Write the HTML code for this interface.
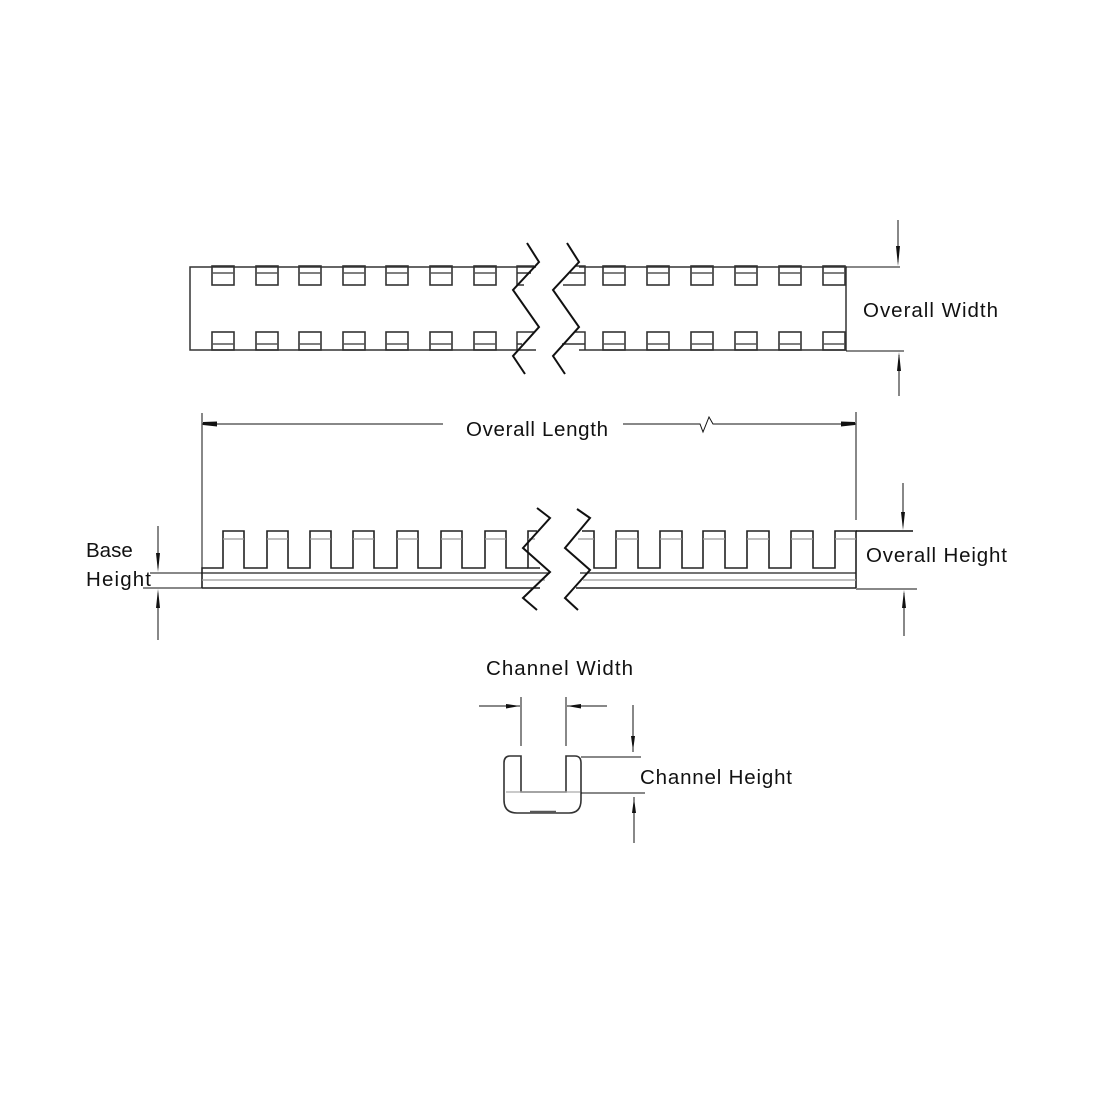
<!DOCTYPE html>
<html><head><meta charset="utf-8"><style>
html,body{margin:0;padding:0;background:#fff;}
svg{display:block;}
text{font-family:"Liberation Sans",sans-serif;font-size:20.5px;fill:#111;}
</style></head><body>
<svg width="1100" height="1100" viewBox="0 0 1100 1100" xmlns="http://www.w3.org/2000/svg">
<defs>
<g id="sqT" fill="none" stroke="#333" stroke-width="1.6"><rect x="0" y="266" width="22" height="19"/><line x1="0" y1="273" x2="22" y2="273" stroke="#555"/></g>
<g id="sqB" fill="none" stroke="#333" stroke-width="1.6"><rect x="0" y="332" width="22" height="18"/><line x1="0" y1="344" x2="22" y2="344" stroke="#555"/></g>
</defs>
<g stroke="#333" stroke-width="1.5" fill="none">
<polyline points="536,267 190,267 190,350 536,350"/>
<polyline points="579,267 846,267 846,350 579,350"/>
</g>
<use href="#sqT" x="212"/><use href="#sqT" x="256"/><use href="#sqT" x="299"/><use href="#sqT" x="343"/><use href="#sqT" x="386"/><use href="#sqT" x="430"/><use href="#sqT" x="474"/>
<use href="#sqT" x="603"/><use href="#sqT" x="647"/><use href="#sqT" x="691"/><use href="#sqT" x="735"/><use href="#sqT" x="779"/><use href="#sqT" x="823"/>
<use href="#sqB" x="212"/><use href="#sqB" x="256"/><use href="#sqB" x="299"/><use href="#sqB" x="343"/><use href="#sqB" x="386"/><use href="#sqB" x="430"/><use href="#sqB" x="474"/>
<use href="#sqB" x="603"/><use href="#sqB" x="647"/><use href="#sqB" x="691"/><use href="#sqB" x="735"/><use href="#sqB" x="779"/><use href="#sqB" x="823"/>
<g stroke="#333" stroke-width="1.5" fill="none">
<polyline points="534,266 517,266 517,285 524,285"/><line x1="517" y1="273" x2="531" y2="273"/>
<polyline points="534,332 517,332 517,350"/><line x1="517" y1="344" x2="522" y2="344"/>
<polyline points="575,266 585,266 585,285 563,285"/><line x1="570" y1="273" x2="585" y2="273"/>
<polyline points="575,332 585,332 585,350"/><line x1="562" y1="344" x2="585" y2="344"/>
</g>
<g stroke="#111" stroke-width="2" fill="none">
<polyline points="527,243 539,262 513,290 539,327 513,356 525,374"/>
<polyline points="567,243 579,262 553,290 579,327 553,356 565,374"/>
</g>
<g stroke="#111" stroke-width="1">
<line x1="846" y1="267" x2="900" y2="267"/><line x1="846" y1="351" x2="904" y2="351"/>
<line x1="898" y1="220" x2="898" y2="262"/><line x1="899" y1="355" x2="899" y2="396"/>
</g>
<polygon points="896,246 900,246 898,266" fill="#111"/>
<polygon points="897,371 901,371 899,352" fill="#111"/>
<text x="863" y="317" textLength="135">Overall Width</text>
<g stroke="#111" stroke-width="1" fill="none">
<line x1="202" y1="413" x2="202" y2="572"/><line x1="856" y1="412" x2="856" y2="520"/>
<line x1="202" y1="424" x2="443" y2="424"/>
<polyline points="623,424 700,424 703,432 709,417 713,424 856,424"/>
</g>
<polygon points="203,422 217,421.5 217,426.5 203,425" fill="#111"/>
<polygon points="855,422 841,421.5 841,426.5 855,425" fill="#111"/>
<text x="466" y="436" textLength="142">Overall Length</text>
<g stroke="#222" stroke-width="1.6" fill="none">
<polyline points="540,568 528,568 528,531 537,531"/>
<polyline points="202,588 202,568 223,568 223,531 244,531 244,568 267,568 267,531 288,531 288,568 310,568 310,531 331,531 331,568 353,568 353,531 374,531 374,568 397,568 397,531 418,531 418,568 441,568 441,531 462,531 462,568 485,568 485,531 506,531 506,568 528,568"/>
<polyline points="582,531 594,531 594,568 616,568 616,531 638,531 638,568 660,568 660,531 682,531 682,568 703,568 703,531 725,531 725,568 747,568 747,531 769,531 769,568 791,568 791,531 813,531 813,568 835,568 835,531 856,531 856,588"/>
<line x1="202" y1="573" x2="550" y2="573" stroke-width="1.2"/>
<line x1="580" y1="573" x2="856" y2="573" stroke-width="1.2"/>
<line x1="202" y1="588" x2="540" y2="588"/>
<line x1="576" y1="588" x2="856" y2="588"/>
</g>
<g stroke="#999" stroke-width="1.3">
<line x1="223" y1="539" x2="244" y2="539"/><line x1="267" y1="539" x2="288" y2="539"/><line x1="310" y1="539" x2="331" y2="539"/><line x1="353" y1="539" x2="374" y2="539"/><line x1="397" y1="539" x2="418" y2="539"/><line x1="441" y1="539" x2="462" y2="539"/><line x1="485" y1="539" x2="506" y2="539"/><line x1="528" y1="539" x2="535" y2="539"/>
<line x1="578" y1="539" x2="594" y2="539"/><line x1="616" y1="539" x2="638" y2="539"/><line x1="660" y1="539" x2="682" y2="539"/><line x1="703" y1="539" x2="725" y2="539"/><line x1="747" y1="539" x2="769" y2="539"/><line x1="791" y1="539" x2="813" y2="539"/><line x1="835" y1="539" x2="856" y2="539"/>
<line x1="202" y1="580" x2="545" y2="580"/><line x1="583" y1="580" x2="856" y2="580"/>
</g>
<g stroke="#111" stroke-width="2" fill="none">
<polyline points="537,508 550,518 523,548 550,572 523,598 537,610"/>
<polyline points="577,509 590,518 565,548 590,570 565,598 578,610"/>
</g>
<g stroke="#111" stroke-width="1">
<line x1="856" y1="531" x2="913" y2="531" stroke-width="1.5"/><line x1="856" y1="589" x2="917" y2="589"/>
<line x1="903" y1="483" x2="903" y2="526"/><line x1="904" y1="593" x2="904" y2="636"/>
</g>
<polygon points="901,512 905,512 903,530" fill="#111"/>
<polygon points="902,608 906,608 904,590" fill="#111"/>
<text x="866" y="562" textLength="141">Overall Height</text>
<g stroke="#111" stroke-width="1">
<line x1="150" y1="573" x2="202" y2="573"/><line x1="143" y1="588" x2="202" y2="588"/>
<line x1="158" y1="526" x2="158" y2="568"/><line x1="158" y1="593" x2="158" y2="640"/>
</g>
<polygon points="156,553 160,553 158,572" fill="#111"/>
<polygon points="156,608 160,608 158,589" fill="#111"/>
<text x="86" y="557">Base</text>
<text x="86" y="586" textLength="65">Height</text>
<path d="M521,756 L510,756 Q504,756 504,763 L504,800 Q504,813 517,813 L569,813 Q581,813 581,800 L581,763 Q581,756 575,756 L566,756 L566,792 L521,792 Z" fill="none" stroke="#333" stroke-width="1.6"/>
<line x1="506" y1="792" x2="580" y2="792" stroke="#aaa" stroke-width="1.2"/>
<line x1="530" y1="812" x2="556" y2="812" stroke="#555" stroke-width="2.5"/>
<g stroke="#111" stroke-width="1">
<line x1="521" y1="697" x2="521" y2="746"/><line x1="566" y1="697" x2="566" y2="746"/>
<line x1="479" y1="706" x2="520" y2="706"/><line x1="567" y1="706" x2="607" y2="706"/>
<line x1="581" y1="757" x2="641" y2="757"/><line x1="581" y1="793" x2="645" y2="793"/>
<line x1="633" y1="705" x2="633" y2="752"/><line x1="634" y1="797" x2="634" y2="843"/>
</g>
<polygon points="506,704 506,708.5 520,706" fill="#111"/>
<polygon points="581,704 581,708.5 567,706" fill="#111"/>
<polygon points="631,736 635,736 633,751" fill="#111"/>
<polygon points="632,813 636,813 634,798" fill="#111"/>
<text x="486" y="675" textLength="147">Channel Width</text>
<text x="640" y="784" textLength="152">Channel Height</text>
</svg>
</body></html>
